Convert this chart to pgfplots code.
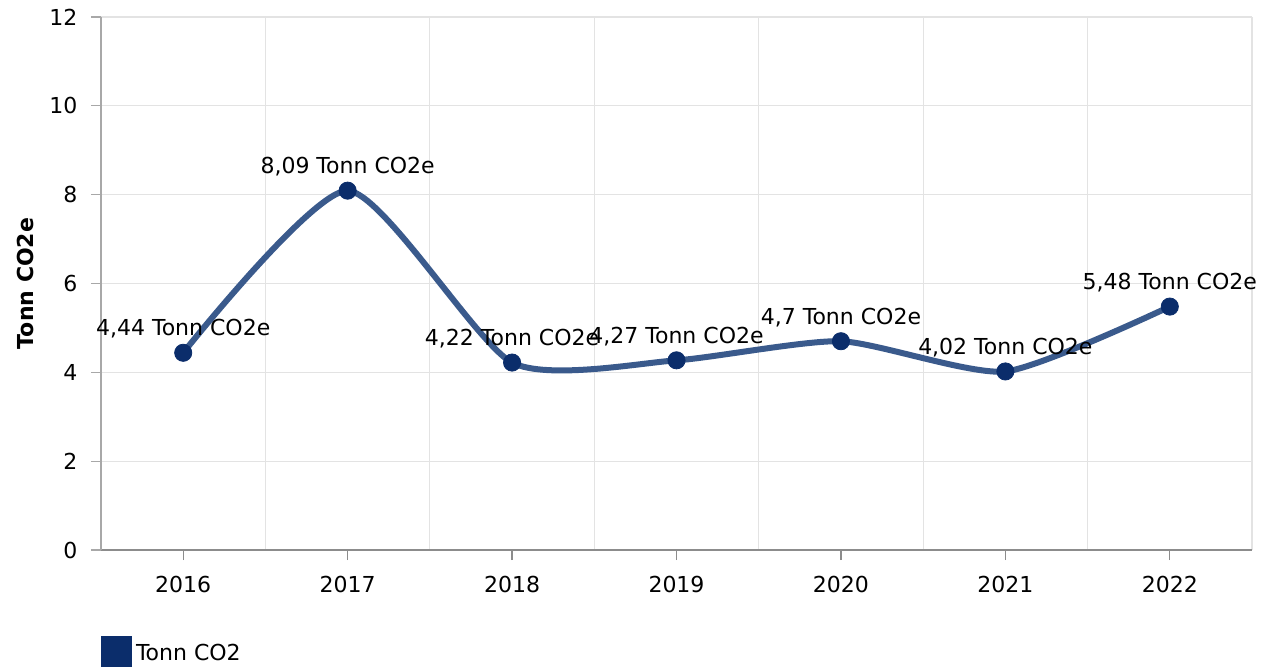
\documentclass[border=0pt]{standalone}
\usepackage{pgfplots}
\pgfplotsset{compat=1.18}
\usepackage{pgfplotstable}
\usepackage{fontspec}
\setmainfont{DejaVu Sans}
\definecolor{linec}{HTML}{3A5A8C}
\definecolor{markc}{HTML}{0B2D6B}
\definecolor{gridc}{HTML}{E3E3E3}
\definecolor{axisc}{HTML}{8C8C8C}
\definecolor{yaxisc}{HTML}{A8A8A8}

\pgfplotstableread{
x y lab
0 4.44 4,44
1 8.09 8,09
2 4.22 4,22
3 4.27 4,27
4 4.70 4,7
5 4.02 4,02
6 5.48 5,48
}\datatable

\begin{document}
\fontsize{11}{13}\selectfont
\begin{tikzpicture}
\begin{axis}[
  name=ax,
  scale only axis, width=575.5pt, height=266.5pt,
  xmin=-0.5, xmax=6.5, ymin=0, ymax=12,
  xtick={0,1,2,3,4,5,6},
  xticklabels={2016,2017,2018,2019,2020,2021,2022},
  minor xtick={-0.5,0.5,1.5,2.5,3.5,4.5,5.5,6.5},
  ytick={0,2,4,6,8,10,12},
  axis x line=bottom, axis y line=left,
  x axis line style={-, axisc, line width=0.8pt},
  y axis line style={-, yaxisc, line width=0.8pt},
  tick align=outside,
  major tick length=5pt, minor tick length=0pt,
  x tick style={axisc, line width=0.6pt},
  y tick style={yaxisc, line width=0.6pt},
  ymajorgrids=true, xminorgrids=true, xmajorgrids=false,
  major grid style={gridc, line width=0.6pt},
  minor grid style={gridc, line width=0.6pt},
  /pgf/number format/assume math mode=true,
  ticklabel style={font=\fontsize{11}{13}\selectfont, text=black},
  xticklabel style={yshift=-4pt},
  yticklabel style={xshift=-3pt},
  ylabel={\bfseries Tonn CO2e},
  ylabel style={at={(axis description cs:-0.066,0.5)}, anchor=center, font=\fontsize{11}{13}\selectfont},
  clip=false,
  legend style={at={(axis description cs:0,0)}, anchor=north west, yshift=-43pt,
    draw=none, fill=none, inner sep=0pt, outer sep=0pt,
    font=\fontsize{11}{13}\selectfont},
  legend image code/.code={\fill[markc] (0pt,-7.25pt) rectangle (12.5pt,7.25pt);},
  legend cell align=left,
]
\addplot[linec, line width=3pt, smooth, tension=0.38,
  mark=*, mark size=4.3pt, mark options={draw=markc, fill=markc, line width=0.4pt},
  point meta=explicit symbolic,
  nodes near coords={\pgfplotspointmeta\ Tonn CO2e},
  nodes near coords style={anchor=base, yshift=8.5pt, inner sep=0pt, text=black,
    font=\fontsize{11}{13}\selectfont},
] table[x=x, y=y, meta=lab] {\datatable};
\addlegendentry{Tonn CO2}
\end{axis}
\pgfresetboundingbox
\useasboundingbox ([xshift=-50.5pt,yshift=-58pt]ax.south west) rectangle ([xshift=10pt,yshift=8.5pt]ax.north east);
\end{tikzpicture}
\end{document}
